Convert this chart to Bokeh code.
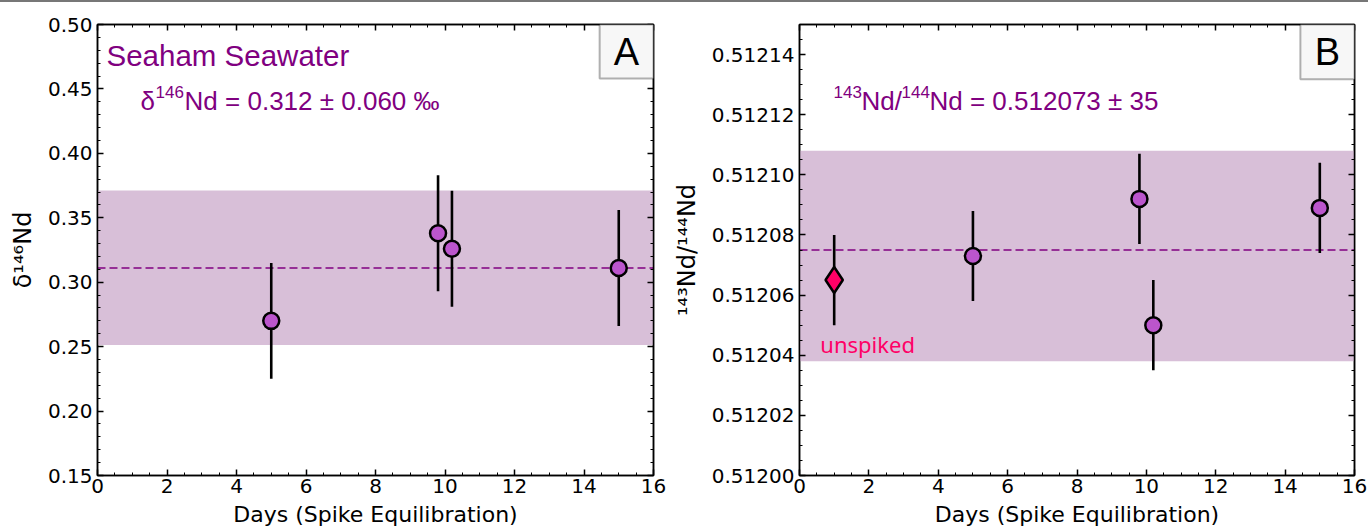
import numpy as np
from bokeh.plotting import figure
from bokeh.models import (BoxAnnotation, Span, Label, LinearAxis, SingleIntervalTicker,
                          PrintfTickFormatter, Range1d, Div, ColumnDataSource,
                          CustomLabelingPolicy)
from bokeh.layouts import row, column
from bokeh.embed import file_html
from bokeh.resources import INLINE

# ---------------- data ----------------
days_A = [5.0, 9.8, 10.2, 15.0]
d146_A = [0.270, 0.338, 0.326, 0.311]
d146_err_A = [0.045, 0.045, 0.045, 0.045]
mean_A = 0.3112
sd2_A = 0.060
dashed_A = 0.311

days_B = [5.0, 9.8, 10.2, 15.0]
nd_B = [0.512073, 0.512092, 0.512050, 0.512089]
nd_err_B = [0.000015, 0.000015, 0.000015, 0.000015]
days_unspiked = [1.0]
nd_unspiked = [0.512065]
nd_err_unspiked = [0.000015]
mean_B = 0.512073
sd2_B = 0.000035
dashed_B = 0.512075

title_A = "Seaham Seawater"
# (text, is_superscript, x offset px) pieces of the in-plot formulas
text_A = [("δ", False, 0), ("146", True, 15), ("Nd = 0.312 ± 0.060 ‰", False, 44)]
text_B = [("143", True, 0), ("Nd/", False, 28), ("144", True, 68),
          ("Nd = 0.512073 ± 35", False, 96)]
unspiked_label = "unspiked"
xlabel = "Days (Spike Equilibration)"
ylabel_A = "δ¹⁴⁶Nd"
ylabel_B = "¹⁴³Nd/¹⁴⁴Nd"

PURPLE = "#800080"
BAND = "#d8bfd8"
MARK = "#bb55cc"
PINK = "#ff0066"
SANS = "Liberation Sans"
TICKF = "DejaVu Sans"

HIDE = CustomLabelingPolicy(code="""
for (const i of indices) indices.unset(i)
return indices
""")

FIG_H = 531


def style_axis(ax, labels=True):
    ax.axis_line_color = "black"
    ax.axis_line_width = 1.5
    ax.major_tick_in = 6
    ax.major_tick_out = 0
    ax.minor_tick_in = 3
    ax.minor_tick_out = 0
    ax.major_tick_line_color = "black"
    ax.major_tick_line_width = 1.5
    ax.minor_tick_line_color = "black"
    ax.minor_tick_line_width = 1
    ax.major_label_text_font = TICKF
    ax.major_label_text_font_size = "20px"
    ax.major_label_text_color = "black"
    ax.major_label_standoff = 5
    ax.axis_label_text_font = TICKF
    ax.axis_label_text_font_size = "24px"
    ax.axis_label_text_font_style = "normal"
    ax.axis_label_text_color = "black"
    ax.axis_label_standoff = 8
    if not labels:
        ax.major_label_text_font_size = "1px"
        ax.major_label_standoff = 0
        ax.major_label_policy = HIDE


def make_fig(width, left, right, yr, yint, yminor, yfmt, ylabel):
    p = figure(width=width, height=FIG_H, output_backend="svg", toolbar_location=None,
               x_range=Range1d(0, 16), y_range=Range1d(*yr),
               min_border_left=left, min_border_right=right,
               min_border_top=22, min_border_bottom=FIG_H - 473)
    p.xgrid.grid_line_color = None
    p.ygrid.grid_line_color = None
    p.outline_line_color = "black"
    p.outline_line_width = 1.5
    p.background_fill_color = "white"
    p.xaxis.ticker = SingleIntervalTicker(interval=2, num_minor_ticks=4)
    p.yaxis.ticker = SingleIntervalTicker(interval=yint, num_minor_ticks=yminor)
    p.yaxis.formatter = PrintfTickFormatter(format=yfmt)
    p.yaxis.axis_label = ylabel
    p.xaxis.axis_label = xlabel
    style_axis(p.xaxis[0])
    style_axis(p.yaxis[0])
    p.xaxis.major_label_standoff = 3
    p.xaxis.axis_label_text_font_size = "22px"
    p.xaxis.axis_label_standoff = 6
    top = LinearAxis(ticker=SingleIntervalTicker(interval=2, num_minor_ticks=4))
    rgt = LinearAxis(ticker=SingleIntervalTicker(interval=yint, num_minor_ticks=yminor))
    style_axis(top, False)
    style_axis(rgt, False)
    p.add_layout(top, "above")
    p.add_layout(rgt, "right")
    return p


def add_band(p, mean, sd2, dashed):
    p.add_layout(BoxAnnotation(bottom=mean - sd2, top=mean + sd2, fill_color=BAND,
                               fill_alpha=1.0, line_color=None, level="underlay"))
    p.add_layout(Span(location=dashed, dimension="width", line_color=PURPLE,
                      line_width=1.5, line_dash="8 4", level="underlay"))


def add_points(p, xs, ys, es, marker, size, color):
    src = ColumnDataSource(dict(x=xs, y=ys,
                                lo=[y - e for y, e in zip(ys, es)],
                                hi=[y + e for y, e in zip(ys, es)]))
    p.segment(x0="x", y0="lo", x1="x", y1="hi", source=src, line_color="black", line_width=2.6)
    p.scatter(x="x", y="y", source=src, marker=marker, size=size, fill_color=color,
              line_color="black", line_width=2.5)


def add_letter_box(p, letter, left, bottom, top, cx, cy):
    p.add_layout(BoxAnnotation(left=left, right=16, bottom=bottom, top=top,
                               fill_color="#f7f7f7", fill_alpha=1.0,
                               line_color="black", line_width=2))
    p.add_layout(Label(x=cx, y=cy, text=letter, text_font=SANS, text_font_size="38px",
                       text_color="black", text_align="center", text_baseline="middle"))


def add_formula(p, x, y, pieces):
    for txt, sup, off in pieces:
        p.add_layout(Label(x=x, y=y, x_offset=off, y_offset=9 if sup else 0, text=txt,
                           text_font=SANS, text_font_size="17px" if sup else "26px",
                           text_color=PURPLE, text_baseline="alphabetic"))


# ---------------- panel A ----------------
pA = make_fig(668, 97, 15, (0.15, 0.50), 0.05, 5, "%.2f", ylabel_A)
add_band(pA, mean_A, sd2_A, dashed_A)
add_points(pA, days_A, d146_A, d146_err_A, "circle", 16, MARK)
pA.add_layout(Label(x=0.26, y=0.4759, text=title_A, text_font=SANS, text_font_size="29.5px",
                    text_color=PURPLE, text_baseline="alphabetic"))
add_formula(pA, 1.24, 0.441, text_A)
add_letter_box(pA, "A", 14.45, 0.458, 0.50, 15.22, 0.479)

# ---------------- panel B ----------------
pB = make_fig(700, 131, 14, (0.51200, 0.51215), 0.00002, 4, "%.5f", ylabel_B)
add_band(pB, mean_B, sd2_B, dashed_B)
add_points(pB, days_unspiked, nd_unspiked, nd_err_unspiked, "diamond", 26, PINK)
add_points(pB, days_B, nd_B, nd_err_B, "circle", 16, MARK)
add_formula(pB, 0.98, 0.5121245, text_B)
pB.add_layout(Label(x=0.6, y=0.5120438, text=unspiked_label, text_font="Noto Sans",
                    text_font_size="22px", text_color=PINK, text_baseline="alphabetic"))
add_letter_box(pB, "B", 14.44, 0.5121318, 0.51215, 15.22, 0.5121409)

topline = Div(text="", width=1368, height=2, margin=0,
              styles={"background-color": "#777777"})
layout = column(topline, row(pA, pB, spacing=0), spacing=0)

html = file_html(layout, INLINE)
html = html.replace("<head>", "<head><style>html,body{margin:0;overflow:hidden;}</style>", 1)
open("out.html", "w").write(html)
